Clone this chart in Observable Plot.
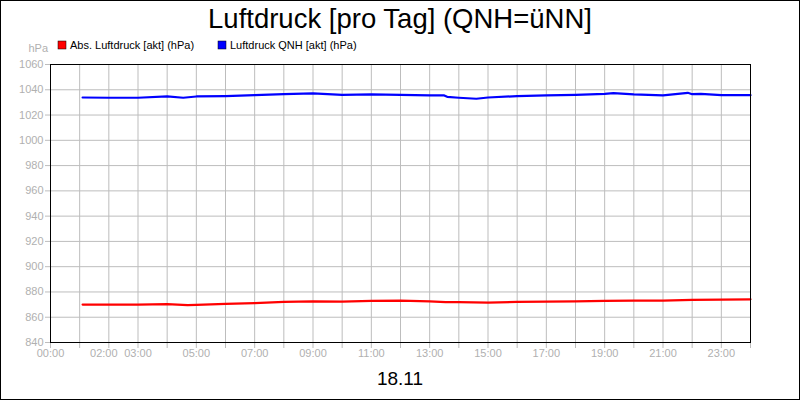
<!DOCTYPE html>
<html><head><meta charset="utf-8">
<script src="https://cdn.jsdelivr.net/npm/d3@7"></script>
<script src="https://cdn.jsdelivr.net/npm/@observablehq/plot@0.6"></script>
<style>
body{margin:0;background:#fff;}
#chart svg{display:block;}
</style></head>
<body><div id="chart"></div>
<script>
const titleText = "Luftdruck [pro Tag] (QNH=üNN]";
const dateLabel = "18.11";
const unitLabel = "hPa";
const seriesNames = ["Abs. Luftdruck [akt] (hPa)", "Luftdruck QNH [akt] (hPa)"];
const seriesColors = ["#ff0000", "#0000ff"];

const absHours = [1.1, 2, 3, 4, 4.7, 5, 6, 7, 8, 9, 10, 11, 12, 13, 13.55, 14, 15, 16, 17, 18, 19, 20, 21, 22, 23, 24];
const absValues = [870.0, 870.0, 870.0, 870.3, 869.5, 869.7, 870.5, 871.1, 872.1, 872.6, 872.4, 872.9, 873.2, 872.6, 872.0, 871.9, 871.6, 872.1, 872.4, 872.6, 872.9, 873.2, 873.2, 873.7, 874.0, 874.2];

const qnhHours = [1.1, 2, 3, 4, 4.55, 5, 6, 7, 8, 9, 10, 11, 12, 13, 13.5, 13.6, 14, 14.6, 15, 16, 17, 18, 19, 19.3, 20, 21, 21.85, 22, 22.3, 23, 24];
const qnhValues = [1033.9, 1033.7, 1033.7, 1034.7, 1033.7, 1034.7, 1035.0, 1035.7, 1036.5, 1037.1, 1036.0, 1036.3, 1036.0, 1035.5, 1035.5, 1034.4, 1033.7, 1032.9, 1033.9, 1035.0, 1035.5, 1036.0, 1036.8, 1037.3, 1036.3, 1035.5, 1037.6, 1036.5, 1036.8, 1035.7, 1035.7];

const yTicks = [840, 860, 880, 900, 920, 940, 960, 980, 1000, 1020, 1040, 1060];
const hourTicks = d3.range(0, 25);
const labelHours = [0, 3, 5, 7, 9, 11, 13, 15, 17, 19, 21, 23];
const shiftedLabelHours = [2];

const absData = absHours.map((h, i) => ({h, v: absValues[i]}));
const qnhData = qnhHours.map((h, i) => ({h, v: qnhValues[i]}));
const fmt = h => String(h).padStart(2, "0") + ":00";
const grey = "#bdbdbd";
const labelGrey = "#b0b0b0";

const chart = Plot.plot({
  width: 800, height: 400,
  marginLeft: 50, marginRight: 50, marginTop: 64, marginBottom: 58,
  style: {fontFamily: "'Liberation Sans', Arial, sans-serif", fontSize: "11px", background: "#fff", outline: "1px solid #000", outlineOffset: "-1px"},
  x: {domain: [0, 24]},
  y: {domain: [840, 1060]},
  marks: [
    Plot.gridX(d3.range(1, 24), {stroke: grey, strokeOpacity: 1}),
    Plot.gridY(yTicks.slice(1, -1), {stroke: grey, strokeOpacity: 1}),
    Plot.axisY(yTicks, {tickSize: 5, tickPadding: 2, stroke: grey, fill: labelGrey, label: null, tickFormat: d => String(d)}),
    Plot.axisX(hourTicks, {tickSize: 6, stroke: grey, tickFormat: () => "", label: null}),
    Plot.axisX(labelHours, {tickSize: 0, tickPadding: 7, tickFormat: fmt, fill: labelGrey, label: null}),
    Plot.axisX(shiftedLabelHours, {tickSize: 0, tickPadding: 7, dx: -5, tickFormat: fmt, fill: labelGrey, label: null}),
    Plot.line(absData, {x: "h", y: "v", stroke: seriesColors[0], strokeWidth: 2.2}),
    Plot.line(qnhData, {x: "h", y: "v", stroke: seriesColors[1], strokeWidth: 2.2}),
    Plot.frame({stroke: "#000"})
  ]
});

const svg = d3.select(chart);
svg.append("text").attr("x", 400).attr("y", 28).attr("text-anchor", "middle")
  .attr("font-size", "27.5px").attr("fill", "#000").text(titleText);
svg.append("text").attr("x", 48).attr("y", 52).attr("text-anchor", "end")
  .attr("font-size", "11px").attr("fill", labelGrey).text(unitLabel);
const legendX = [58, 218];
seriesNames.forEach((name, i) => {
  svg.append("rect").attr("x", legendX[i]).attr("y", 41).attr("width", 8).attr("height", 8)
    .attr("fill", seriesColors[i]).attr("stroke", "#000").attr("stroke-width", 0.5);
  svg.append("text").attr("x", legendX[i] + 12).attr("y", 49).attr("text-anchor", "start")
    .attr("font-size", "11px").attr("fill", "#000").text(name);
});
svg.append("text").attr("x", 400).attr("y", 385).attr("text-anchor", "middle")
  .attr("font-size", "19px").attr("fill", "#000").text(dateLabel);

document.getElementById("chart").appendChild(chart);
</script>
</body></html>
